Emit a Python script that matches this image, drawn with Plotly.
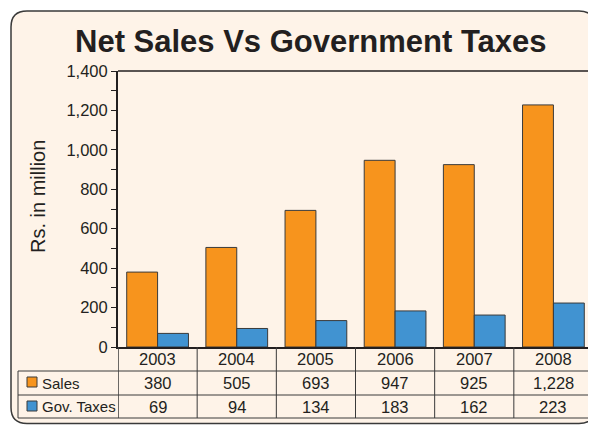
import plotly.graph_objects as go

years = ["2003", "2004", "2005", "2006", "2007", "2008"]
sales = [380, 505, 693, 947, 925, 1228]
gov_taxes = [69, 94, 134, 183, 162, 223]
series_names = ["Sales", "Gov. Taxes"]
title_text = "Net Sales Vs Government Taxes"
y_title = "Rs. in million"

OFF = 8  # page body margin
W, H = 596 - OFF, 425 - OFF
L, R, T, B = 118, 593, 71, 347  # plot area in page px
ORANGE = "#F7941D"
BLUE = "#4193D1"
INK = "#231F20"
CREAM = "#FEF3E8"
FONT = "Liberation Sans, Arial, sans-serif"


def xp(px):
    return (px - L) / (R - L)


def yp(py):
    return (B - py) / (B - T)


xs = list(range(len(years)))

fig = go.Figure()
fig.add_trace(go.Bar(x=xs, y=sales, name=series_names[0], marker=dict(color=ORANGE, line=dict(color="#3a3a3a", width=1))))
fig.add_trace(go.Bar(x=xs, y=gov_taxes, name=series_names[1], marker=dict(color=BLUE, line=dict(color="#3a3a3a", width=1))))

shapes = []
# rounded background frame
x0, x1, y0, y1, r = 11, 595, 11, 423.5, 16
def P(px, py):
    return f"{xp(px):.5f},{yp(py):.5f}"
path = (f"M {P(x0 + r, y0)} L {P(x1 - r, y0)} Q {P(x1, y0)} {P(x1, y0 + r)} "
        f"L {P(x1, y1 - r)} Q {P(x1, y1)} {P(x1 - r, y1)} "
        f"L {P(x0 + r, y1)} Q {P(x0, y1)} {P(x0, y1 - r)} "
        f"L {P(x0, y0 + r)} Q {P(x0, y0)} {P(x0 + r, y0)} Z")
shapes.append(dict(type="path", xref="paper", yref="paper", path=path, fillcolor=CREAM,
                   line=dict(color="#3a3a3a", width=1.5), layer="below"))
# top and right frame lines of the plot area
shapes.append(dict(type="line", xref="paper", yref="paper", x0=0, x1=1, y0=1, y1=1, line=dict(color=INK, width=1.5)))
shapes.append(dict(type="line", xref="paper", yref="paper", x0=1, x1=1, y0=0, y1=1, line=dict(color=INK, width=2)))

# table lines
rows_py = [371, 395, 418]
for py in rows_py:
    shapes.append(dict(type="line", xref="paper", yref="paper", x0=xp(18), x1=1, y0=yp(py), y1=yp(py),
                       line=dict(color="#3a3a3a", width=1)))
# left boundary of legend column
shapes.append(dict(type="line", xref="paper", yref="paper", x0=xp(18), x1=xp(18), y0=yp(371), y1=yp(418),
                   line=dict(color="#3a3a3a", width=1)))
# column boundaries
for i in range(len(years) + 1):
    shapes.append(dict(type="line", xref="x", yref="paper", x0=i - 0.5, x1=i - 0.5, y0=0, y1=yp(418),
                       line=dict(color="#3a3a3a", width=1 if 0 < i < len(years) else 1.5)))
# legend swatches
for py_top, col in [(377, ORANGE), (401, BLUE)]:
    shapes.append(dict(type="rect", xref="paper", yref="paper", x0=xp(27), x1=xp(37), y0=yp(py_top + 10), y1=yp(py_top),
                       fillcolor=col, line=dict(color="#3a3a3a", width=1)))

annotations = []
annotations.append(dict(text=f"<b>{title_text}</b>", xref="paper", yref="paper", x=xp(311), y=yp(42),
                        xanchor="center", yanchor="middle", showarrow=False, font=dict(size=31, color=INK, family=FONT)))
annotations.append(dict(text=y_title, xref="paper", yref="paper", x=xp(38), y=yp(197), textangle=-90,
                        xanchor="center", yanchor="middle", showarrow=False, font=dict(size=20, color=INK, family=FONT)))
row_centers = [359, 383, 406.5]
for i, yr in enumerate(years):
    annotations.append(dict(text=yr, xref="x", yref="paper", x=i, y=yp(row_centers[0]), showarrow=False,
                            xanchor="center", yanchor="middle", font=dict(size=16.5, color=INK, family=FONT)))
    annotations.append(dict(text=f"{sales[i]:,}", xref="x", yref="paper", x=i, y=yp(row_centers[1]), showarrow=False,
                            xanchor="center", yanchor="middle", font=dict(size=16.5, color=INK, family=FONT)))
    annotations.append(dict(text=f"{gov_taxes[i]:,}", xref="x", yref="paper", x=i, y=yp(row_centers[2]), showarrow=False,
                            xanchor="center", yanchor="middle", font=dict(size=16.5, color=INK, family=FONT)))
for name, py in zip(series_names, row_centers[1:]):
    annotations.append(dict(text=name, xref="paper", yref="paper", x=xp(40), y=yp(py), showarrow=False,
                            xanchor="left", yanchor="middle", font=dict(size=15, color=INK, family=FONT)))

fig.update_layout(
    width=W, height=H,
    margin=dict(l=L - OFF, r=(596 - OFF) - (R - OFF), t=T - OFF, b=(425 - OFF) - (B - OFF), pad=0),
    paper_bgcolor="white", plot_bgcolor="rgba(0,0,0,0)",
    barmode="group", bargap=0.22, bargroupgap=0,
    showlegend=False,
    shapes=shapes, annotations=annotations,
    font=dict(family=FONT, color=INK),
    xaxis=dict(range=[-0.5, len(years) - 0.5], showticklabels=False, ticks="", showgrid=False, zeroline=False,
               showline=True, linecolor=INK, linewidth=2, fixedrange=True),
    yaxis=dict(range=[0, 1400], dtick=200, tickformat=",", showgrid=False, zeroline=False,
               showline=True, linecolor=INK, linewidth=2, ticks="outside", ticklen=5, tickwidth=1, tickcolor=INK,
               tickfont=dict(size=16.5, color=INK, family=FONT),
               minor=dict(dtick=100, ticks="outside", ticklen=5, tickwidth=1, tickcolor=INK)),
)

fig.write_html("out.html")
